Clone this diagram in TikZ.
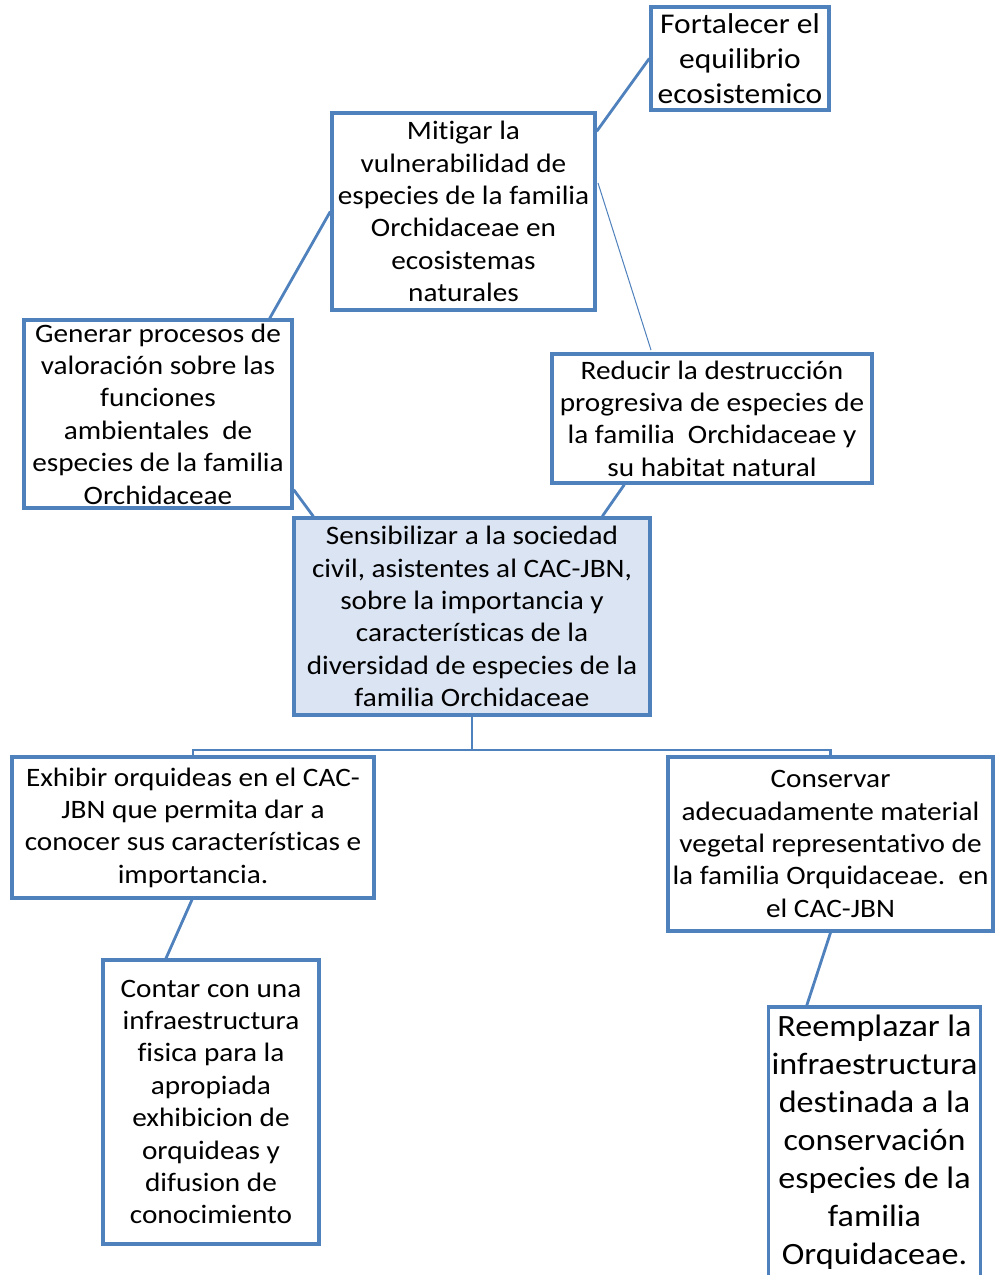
\documentclass[tikz,border=0pt]{standalone}
\usepackage{fontspec}
\setmainfont{Carlito}[FakeStretch=1.1, Ligatures={NoCommon}]
\usetikzlibrary{calc}
\definecolor{bord}{RGB}{79,129,189}
\definecolor{cfill}{RGB}{219,228,242}
\tikzset{
  box/.style={draw=bord, line width=1.7pt, fill=white, align=center, inner sep=0pt,
    font=\fontsize{13.3pt}{16.2pt}\selectfont},
  conn/.style={draw=bord, line width=1.4pt},
  thinconn/.style={draw=bord, line width=0.5pt},
}
\begin{document}
\begin{tikzpicture}[x=0.5pt,y=-0.5pt]
\useasboundingbox (0,0) rectangle (1003,1275);
\clip (0,0) rectangle (1003,1275);
\fill[white] (0,0) rectangle (1003,1275);

\node[box, minimum width=89pt, minimum height=51.5pt, font=\fontsize{14.3pt}{17.5pt}\selectfont] (fort) at (740,58.5)
  {Fortalecer el\\equilibrio\\ecosistemico};
\node[box, minimum width=131.5pt, minimum height=98.5pt] (mit) at (463.5,211.5)
  {Mitigar la\\vulnerabilidad de\\especies de la familia\\Orchidaceae en\\ecosistemas\\naturales};
\node[box, minimum width=134pt, minimum height=94pt] (gen) at (158,414)
  {Generar procesos de\\valoración sobre las\\funciones\\ambientales\ \ de\\especies de la familia\\Orchidaceae};
\node[box, minimum width=160pt, minimum height=64.5pt] (red) at (712,418.5)
  {Reducir la destrucción\\progresiva de especies de\\la familia\ \ Orchidaceae y\\su habitat natural};
\node[box, fill=cfill, minimum width=178pt, minimum height=98.5pt] (sen) at (472,616.5)
  {Sensibilizar a la sociedad\\civil, asistentes al CAC-JBN,\\sobre la importancia y\\características de la\\diversidad de especies de la\\familia Orchidaceae};
\node[box, minimum width=181pt, minimum height=70.5pt] (exh) at (193,827.5)
  {Exhibir orquideas en el CAC-\\JBN que permita dar a\\conocer sus características e\\importancia.};
\node[box, minimum width=162.5pt, minimum height=87pt] (con) at (830.5,844)
  {Conservar\\adecuadamente material\\vegetal representativo de\\la familia Orquidaceae.\ \ en\\el CAC-JBN};
\node[box, minimum width=108pt, minimum height=142pt] (cont) at (211,1102)
  {Contar con una\\infraestructura\\fisica para la\\apropiada\\exhibicion de\\orquideas y\\difusion de\\conocimiento};
\node[box, minimum width=106pt, minimum height=135pt, font=\fontsize{15.5pt}{19pt}\selectfont] (ree) at (874.5,1142)
  {Reemplazar la\\infraestructura\\destinada a la\\conservación\\especies de la\\familia\\Orquidaceae.};

\coordinate (j) at (472,750);
\coordinate (tf) at (598,183);
\coordinate (tt) at (651,350);

\draw[conn] (fort.west) -- ($(mit.north east)+(0,20)$);
\draw[conn] (mit.west) -- ($(gen.north east)+(-24,0)$);
\draw[thinconn] (tf) -- (tt);
\draw[conn] ($(gen.south east)+(0,-20)$) -- ($(sen.north west)+(21,0)$);
\draw[conn] ($(red.south west)+(74,0)$) -- ($(sen.north west)+(310,0)$);
\draw[conn] (sen.south) -- (j);
\draw[conn] (exh.north) |- (j) -| (con.north);
\draw[conn] ($(exh.south)+(-1,0)$) -- ($(cont.north)+(-45,0)$);
\draw[conn] (con.south) -- ($(ree.north west)+(40,0)$);
\end{tikzpicture}
\end{document}
